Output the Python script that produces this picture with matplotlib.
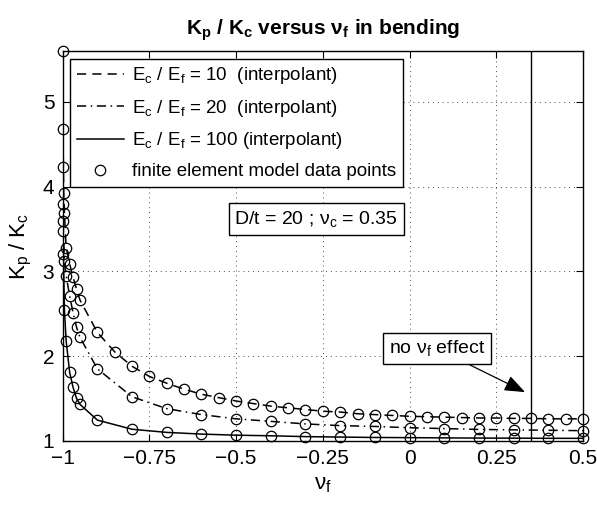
import matplotlib
matplotlib.use("Agg")
import matplotlib.pyplot as plt

plt.rcParams['font.family'] = ['Liberation Sans', 'DejaVu Sans']
plt.rcParams['mathtext.fontset'] = 'custom'
plt.rcParams['mathtext.rm'] = 'Liberation Sans'
plt.rcParams['mathtext.it'] = 'Liberation Sans'
plt.rcParams['mathtext.bf'] = 'Liberation Sans:bold'

# Ec/Ef = 10
x10 = [-0.9995, -0.999, -0.998, -0.997, -0.995, -0.99, -0.98, -0.97, -0.96, -0.95,
       -0.9, -0.85, -0.8, -0.75, -0.7, -0.65, -0.6, -0.55, -0.5, -0.45, -0.4, -0.35,
       -0.3, -0.25, -0.2, -0.15, -0.1, -0.05, 0.0, 0.05, 0.1, 0.15, 0.2, 0.25, 0.3,
       0.35, 0.4, 0.45, 0.5]
y10 = [5.6, 4.68, 4.23, 3.93, 3.69, 3.28, 3.09, 2.93, 2.79, 2.66,
       2.28, 2.05, 1.88, 1.76, 1.68, 1.61, 1.55, 1.51, 1.47, 1.44, 1.41, 1.39,
       1.37, 1.35, 1.34, 1.32, 1.31, 1.30, 1.29, 1.285, 1.28, 1.275, 1.27, 1.27, 1.265,
       1.265, 1.26, 1.26, 1.26]

# Ec/Ef = 20
x20 = [-0.999, -0.998, -0.995, -0.99, -0.98, -0.97, -0.96, -0.95, -0.9, -0.8, -0.7,
       -0.6, -0.5, -0.4, -0.3, -0.2, -0.1, 0.0, 0.1, 0.2, 0.3, 0.4, 0.5]
y20 = [3.80, 3.48, 3.12, 2.95, 2.71, 2.51, 2.34, 2.22, 1.85, 1.52, 1.38,
       1.31, 1.26, 1.23, 1.20, 1.18, 1.17, 1.155, 1.145, 1.135, 1.13, 1.125, 1.12]

# Ec/Ef = 100
x100 = [-0.999, -0.998, -0.995, -0.99, -0.98, -0.97, -0.96, -0.95, -0.9, -0.8, -0.7,
        -0.6, -0.5, -0.4, -0.3, -0.2, -0.1, 0.0, 0.1, 0.2, 0.3, 0.4, 0.5]
y100 = [3.59, 3.20, 2.54, 2.18, 1.81, 1.63, 1.50, 1.43, 1.245, 1.137, 1.10,
        1.08, 1.067, 1.06, 1.05, 1.045, 1.04, 1.038, 1.035, 1.033, 1.032, 1.03, 1.03]

xticks = [-1, -0.75, -0.5, -0.25, 0, 0.25, 0.5]
xticklabels = ['\u22121', '\u22120.75', '\u22120.5', '\u22120.25', '0', '0.25', '0.5']
yticks = [1, 2, 3, 4, 5]
nu_c = 0.35

fig = plt.figure(figsize=(5.97, 5.05), dpi=100)
ax = fig.add_axes([0.105, 0.127, 0.8715, 0.772])

l1, = ax.plot(x10, y10, color='k', lw=1.1, ls=(0, (6, 4)),
              label=r'$\mathrm{E_c\ /\ E_f}$ = 10  (interpolant)')
l2, = ax.plot(x20, y20, color='k', lw=1.1, ls=(0, (6, 3, 1, 3)),
              label=r'$\mathrm{E_c\ /\ E_f}$ = 20  (interpolant)')
l3, = ax.plot(x100, y100, color='k', lw=1.1, ls='-',
              label=r'$\mathrm{E_c\ /\ E_f}$ = 100 (interpolant)')
mk = dict(ls='none', marker='o', mfc='none', mec='k', ms=7.5, mew=0.9, clip_on=False)
m1, = ax.plot(x10, y10, label='finite element model data points', **mk)
ax.plot(x20, y20, **mk)
ax.plot(x100, y100, **mk)

ax.axvline(nu_c, color='k', lw=1.0)

ax.set_xlim(-1, 0.5)
ax.set_ylim(1, 5.6)
ax.set_xticks(xticks)
ax.set_xticklabels(xticklabels)
ax.set_yticks(yticks)
ax.tick_params(direction='in', top=True, right=True, labelsize=15, length=5, pad=6)
ax.grid(True, ls=(0, (1, 4)), color='k', lw=0.7, alpha=0.7)
for s in ax.spines.values():
    s.set_linewidth(1.0)

leg = ax.legend(handles=[l1, l2, l3, m1], loc='upper left', fontsize=13.5,
                frameon=True, fancybox=False, edgecolor='k', framealpha=1,
                handlelength=2.5, borderaxespad=0.4, labelspacing=0.62,
                handletextpad=0.45, borderpad=0.35)
leg.get_frame().set_linewidth(1.0)

ax.text(-0.269, 3.62, r'D/t = 20 ; $\mathrm{\nu_c}$ = 0.35', fontsize=14,
        ha='center', va='center',
        bbox=dict(boxstyle='square,pad=0.3', fc='white', ec='k', lw=1.0))

ax.annotate(r'no $\mathrm{\nu_f}$ effect', xy=(0.333, 1.575), xytext=(0.078, 2.09),
            fontsize=14, ha='center', va='center',
            bbox=dict(boxstyle='square,pad=0.3', fc='white', ec='k', lw=1.0),
            arrowprops=dict(arrowstyle='-|>,head_length=0.9,head_width=0.35',
                            color='k', lw=0.9, shrinkA=0, shrinkB=0))

ax.set_xlabel(r'$\mathrm{\nu_f}$', fontsize=16, labelpad=4)
ax.set_ylabel(r'$\mathrm{K_p\ /\ K_c}$', fontsize=16, labelpad=6)
ax.set_title(r'$\mathbf{K_p\ /\ K_c}$ versus $\mathbf{\nu_f}$ in bending',
             fontsize=15, fontweight='bold', pad=12)

fig.savefig('out.png', dpi=100)
